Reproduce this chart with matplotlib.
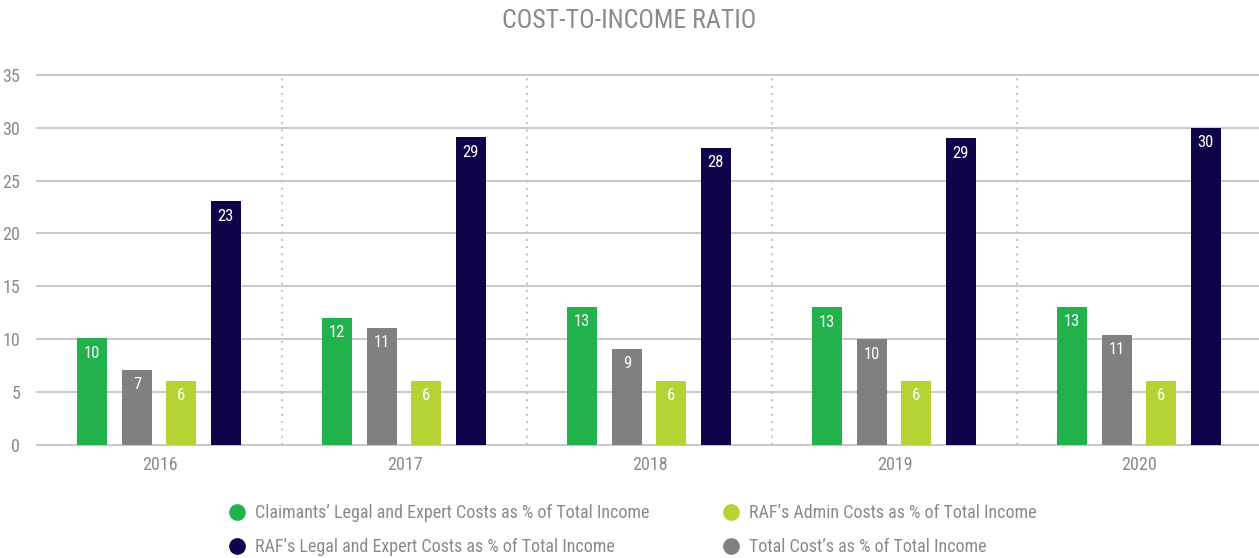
import matplotlib
matplotlib.use("Agg")
import matplotlib.pyplot as plt
import numpy as np
from matplotlib.lines import Line2D
from matplotlib import font_manager

years = ["2016", "2017", "2018", "2019", "2020"]
claimants = [10.1, 12.0, 13.05, 13.0, 13.05]
total = [7.1, 11.05, 9.07, 10.0, 10.4]
raf_admin = [6.05, 6.05, 6.05, 6.05, 6.05]
raf_legal = [23.05, 29.1, 28.1, 29.0, 30.0]
claimants_lbl = ["10", "12", "13", "13", "13"]
total_lbl = ["7", "11", "9", "10", "11"]
raf_admin_lbl = ["6", "6", "6", "6", "6"]
raf_legal_lbl = ["23", "29", "28", "29", "30"]
yticks = [0, 5, 10, 15, 20, 25, 30, 35]
legend_labels = ["Claimants\u2019 Legal and Expert Costs as % of Total Income",
                 "RAF\u2019s Legal and Expert Costs as % of Total Income",
                 "RAF\u2019s Admin Costs as % of Total Income",
                 "Total Cost\u2019s as % of Total Income"]

names = {f.name for f in font_manager.fontManager.ttflist}
cond = None
for cand in ["Liberation Sans Narrow", "DejaVu Sans Condensed", "Roboto Condensed", "Open Sans Condensed"]:
    if cand in names:
        cond = cand
        break
fam = [cond, "DejaVu Sans"] if cond else ["Roboto", "DejaVu Sans"]

c_green = "#22b24c"
c_gray = "#808083"
c_lime = "#b5d334"
c_navy = "#0e0449"
txt_gray = "#8a8a8d"

fig = plt.figure(figsize=(12.59, 5.58), dpi=100)
ax = fig.add_axes([37/1259, 1-445/558, (1259-37)/1259, (445-74.7)/558])

x = np.arange(len(years))
w = 0.122
offs = [-0.275, -0.092, 0.088, 0.27]
series = [(claimants, claimants_lbl, c_green), (total, total_lbl, c_gray),
          (raf_admin, raf_admin_lbl, c_lime), (raf_legal, raf_legal_lbl, c_navy)]
for (vals, lbls, col), o in zip(series, offs):
    bars = ax.bar(x + o, vals, width=w, color=col, zorder=3)
    for b, l in zip(bars, lbls):
        ax.text(b.get_x() + b.get_width()/2, b.get_height() - 0.7, l, ha="center", va="top",
                color="white", fontsize=12, family=fam, zorder=4)

ax.set_xlim(-0.5, -0.5 + 1222/245)
ax.set_ylim(0, 35)
for yv in yticks:
    ax.axhline(yv, color="#c4c4c6", lw=1.3, zorder=1, clip_on=False)
for xv in x[:-1] + 0.5:
    ax.axvline(xv, color="#c4c4c6", lw=1.5, ls=(0, (1, 2.5)), zorder=1)

ax.set_yticks(yticks)
ax.set_yticklabels([str(v) for v in yticks], family=fam, fontsize=13, color=txt_gray)
ax.set_xticks(x)
ax.set_xticklabels(years, family=fam, fontsize=13, color=txt_gray)
ax.tick_params(length=0, pad=8)
ax.tick_params(axis="y", pad=12)
for s in ax.spines.values():
    s.set_visible(False)

fig.text(0.5, 1-21/558, "COST-TO-INCOME RATIO", ha="center", va="center", fontsize=18.5,
         color=txt_gray, family=fam)

cols = [c_green, c_navy, c_lime, c_gray]
handles = [Line2D([], [], marker="o", ls="", color=c, markersize=11) for c in cols]
fig.legend(handles, legend_labels, loc="center", bbox_to_anchor=(632/1259, 1-530/558), ncol=2,
           frameon=False, prop={"family": fam, "size": 13}, labelcolor=txt_gray,
           columnspacing=4.0, handletextpad=0.5, labelspacing=0.9, handlelength=1.0)

fig.savefig("out.png", dpi=100)
